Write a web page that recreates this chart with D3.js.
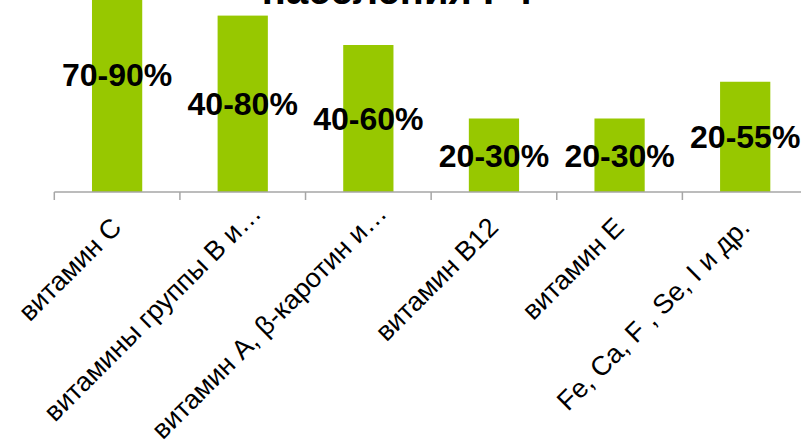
<!DOCTYPE html>
<html>
<head>
<meta charset="utf-8">
<script src="https://cdn.jsdelivr.net/npm/d3@7/dist/d3.min.js"></script>
<style>
  html, body { margin: 0; padding: 0; background: #ffffff; }
  svg { display: block; }
</style>
</head>
<body>
<svg id="chart" width="801" height="442"></svg>
<script>
// ---- data ----
const categories = [
  "витамин C",
  "витамины группы В и…",
  "витамин А, β-каротин и…",
  "витамин B12",
  "витамин Е",
  "Fe, Ca, F , Se, I и др."
];
const values = [80, 60, 50, 25, 25, 37.5];          // bar heights (range midpoints)
const valueLabels = ["70-90%", "40-80%", "40-60%", "20-30%", "20-30%", "20-55%"];
const titleText = "населения РФ";

// ---- layout ----
const W = 801, H = 442;
const baseY = 192;
const left = 54.3, right = 808;
const svg = d3.select("#chart");

const x = d3.scaleBand()
  .domain(categories)
  .range([left, right])
  .paddingInner(0.6)
  .paddingOuter(0.3);
const step = x.step();
const y = d3.scaleLinear().domain([0, 100]).range([baseY, baseY - 294]);

const font = "'Liberation Sans', Arial, Helvetica, sans-serif";

// title (cut off at top, as in the reference)
svg.append("text")
  .attr("x", 402.5)
  .attr("y", 4)
  .attr("text-anchor", "middle")
  .attr("font-family", font)
  .attr("font-weight", "bold")
  .attr("font-size", 40)
  .attr("fill", "#000")
  .text(titleText);

// bars
svg.append("g").selectAll("rect")
  .data(categories)
  .join("rect")
  .attr("x", d => x(d))
  .attr("width", x.bandwidth())
  .attr("y", (d, i) => y(values[i]))
  .attr("height", (d, i) => baseY - y(values[i]))
  .attr("fill", "#97C800");

// axis line and ticks at category boundaries
const ax = svg.append("g");
ax.append("line")
  .attr("x1", left).attr("x2", right)
  .attr("y1", baseY).attr("y2", baseY)
  .attr("stroke", "#A6A6A6").attr("stroke-width", 1.5);
d3.range(categories.length + 1).forEach(i => {
  const tx = left + i * step;
  ax.append("line")
    .attr("x1", tx).attr("x2", tx)
    .attr("y1", baseY).attr("y2", baseY + 8)
    .attr("stroke", "#A6A6A6").attr("stroke-width", 1.5);
});

// value labels (centered in bar)
svg.append("g").selectAll("text")
  .data(categories)
  .join("text")
  .attr("x", d => x(d) + x.bandwidth() / 2)
  .attr("y", (d, i) => (y(values[i]) + baseY) / 2 + 11.5)
  .attr("text-anchor", "middle")
  .attr("font-family", font)
  .attr("font-weight", "bold")
  .attr("font-size", 32)
  .attr("fill", "#000")
  .text((d, i) => valueLabels[i]);

// category labels rotated -45°
svg.append("g").selectAll("text")
  .data(categories)
  .join("text")
  .attr("transform", d => {
    const cx = x(d) + x.bandwidth() / 2;
    const extra = d.endsWith("…") ? 14 : 0;
    return `translate(${cx + 6 + extra},${229 - extra}) rotate(-45)`;
  })
  .attr("text-anchor", "end")
  .attr("font-family", font)
  .attr("font-size", 27)
  .attr("fill", "#000")
  .text(d => d);
</script>
</body>
</html>
